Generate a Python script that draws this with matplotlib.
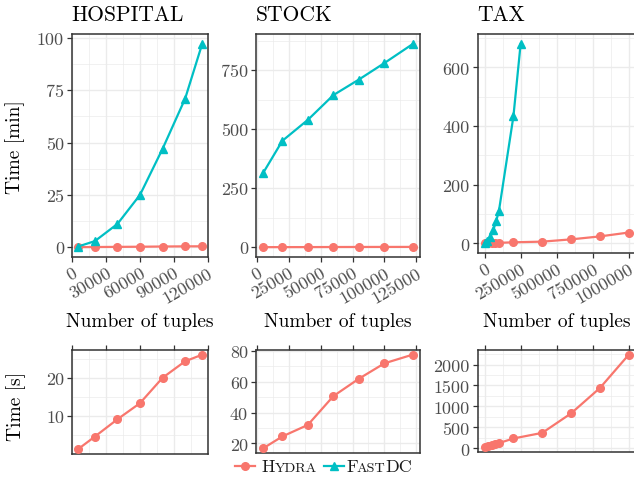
import matplotlib
matplotlib.use("Agg")
import matplotlib.pyplot as plt
from matplotlib.ticker import MultipleLocator, AutoMinorLocator, StrMethodFormatter
from matplotlib.lines import Line2D

# data
hosp_x = [5000, 20000, 40000, 60000, 80000, 100000, 115000]
hosp_fastdc_min = [0.3, 2.9, 11.1, 25.0, 47.0, 71.0, 97.0]
hosp_hydra_s = [1.4, 4.7, 9.2, 13.4, 20.0, 24.3, 26.0]

stock_x = [5000, 20000, 40000, 60000, 80000, 100000, 122000]
stock_fastdc_min = [315, 451, 540, 645, 711, 781, 861]
stock_hydra_s = [16.8, 24.5, 32.0, 50.7, 62.0, 72.0, 77.6]

tax_x_hydra = [1000, 25000, 50000, 75000, 100000, 200000, 400000, 600000, 800000, 1000000]
tax_hydra_s = [24, 47, 71, 102, 126, 236, 370, 835, 1441, 2236]
tax_x_fastdc = [1000, 20000, 40000, 60000, 80000, 100000, 200000, 250000]
tax_fastdc_min = [1, 10, 22, 45, 75, 112, 433, 680]

datasets = ["HOSPITAL", "STOCK", "TAX"]

RED = "#F8766D"
TEAL = "#00BFC4"

plt.rcParams["font.family"] = "cmr10"
plt.rcParams["axes.formatter.use_mathtext"] = True
plt.rcParams["axes.unicode_minus"] = False

fig = plt.figure(figsize=(6.34, 4.85), dpi=100)
W, H = 634.0, 485.0

def px_axes(left, top, right, bottom):
    return fig.add_axes([left / W, 1 - bottom / H, (right - left) / W, (bottom - top) / H])

def style(ax, xstep, ystep):
    ax.set_facecolor("white")
    for s in ax.spines.values():
        s.set_color("#333333")
        s.set_linewidth(1.1)
    ax.xaxis.set_major_locator(MultipleLocator(xstep))
    ax.yaxis.set_major_locator(MultipleLocator(ystep))
    ax.xaxis.set_minor_locator(AutoMinorLocator(2))
    ax.yaxis.set_minor_locator(AutoMinorLocator(2))
    ax.grid(True, which="major", color="#EBEBEB", lw=1.0)
    ax.grid(True, which="minor", color="#EBEBEB", lw=0.5)
    ax.set_axisbelow(True)
    ax.tick_params(which="major", direction="out", length=3.5, width=0.9, color="#333333",
                   labelsize=13, labelcolor="#4D4D4D", pad=2)
    ax.tick_params(which="minor", length=0)
    ax.xaxis.set_major_formatter(StrMethodFormatter("{x:.0f}"))
    ax.yaxis.set_major_formatter(StrMethodFormatter("{x:.0f}"))

line_kw = dict(lw=1.6, ms=5.5, clip_on=False, zorder=3)

top_boxes = [(71.7, 35, 208.3, 258.3), (255.7, 35, 420, 258.3), (477.5, 35, 636, 254.3)]
bot_boxes = [(71.7, 351, 208.3, 455), (255.7, 351, 420, 454), (477.5, 351, 636, 453)]
xsteps = [30000, 25000, 250000]
top_ysteps = [25, 250, 200]
bot_ysteps = [10, 20, 500]

top_data = [
    (hosp_x, hosp_hydra_s, hosp_x, hosp_fastdc_min),
    (stock_x, stock_hydra_s, stock_x, stock_fastdc_min),
    (tax_x_hydra, tax_hydra_s, tax_x_fastdc, tax_fastdc_min),
]

for i, name in enumerate(datasets):
    hx, hs, fx, fm = top_data[i]
    # top row: minutes
    ax = px_axes(*top_boxes[i])
    style(ax, xsteps[i], top_ysteps[i])
    ax.plot(hx, [v / 60 for v in hs], color=RED, marker="o", **line_kw)
    ax.plot(fx, fm, color=TEAL, marker="^", **line_kw)
    for lab in ax.get_xticklabels():
        lab.set_rotation(30)
        lab.set_ha("right")
        lab.set_va("top")
        lab.set_rotation_mode("anchor")
    xlim = ax.get_xlim()
    fig.text(top_boxes[i][0] / W, 1 - 15 / H, name, fontsize=15.5, va="center", ha="left")
    fig.text((top_boxes[i][0] + top_boxes[i][2]) / 2 / W, 1 - 322 / H, "Number of tuples",
             fontsize=14, ha="center", va="center")

    # bottom row: seconds, Hydra only
    bx = px_axes(*bot_boxes[i])
    style(bx, xsteps[i], bot_ysteps[i])
    bx.plot(hx, hs, color=RED, marker="o", **line_kw)
    bx.set_xlim(xlim)
    bx.xaxis.set_ticks_position("top")
    bx.tick_params(axis="x", labeltop=False, labelbottom=False)

fig.text(15.5 / W, 1 - 146.7 / H, "Time [min]", rotation=90, fontsize=14, ha="center", va="center")
fig.text(16.5 / W, 1 - 406.7 / H, "Time [s]", rotation=90, fontsize=14, ha="center", va="center")

# legend drawn by hand so the labels can be in small caps
renderer = fig.canvas.get_renderer()

def legend_key(x0, color, marker):
    y = 1 - 467 / H
    fig.add_artist(Line2D([x0 / W, (x0 + 20) / W], [y, y], color=color, lw=1.6,
                          transform=fig.transFigure))
    fig.add_artist(Line2D([(x0 + 10) / W], [y], marker=marker, color=color, ms=5.5,
                          transform=fig.transFigure))

def smallcaps(x0, parts):
    x = x0
    for s, size, kern in parts:
        t = fig.text(x / W, 1 - 472.5 / H, s, fontsize=size, va="baseline", ha="left",
                     color="#1A1A1A")
        x += t.get_window_extent(renderer).width + kern

legend_key(235, RED, "o")
smallcaps(261.5, [("H", 13, 0), ("YDRA", 10.2, 0)])
legend_key(324, TEAL, "^")
smallcaps(346.5, [("F", 13, -2.0), ("AST", 10.2, 0.5), ("DC", 13, 0)])

fig.savefig("out.png", dpi=100)
